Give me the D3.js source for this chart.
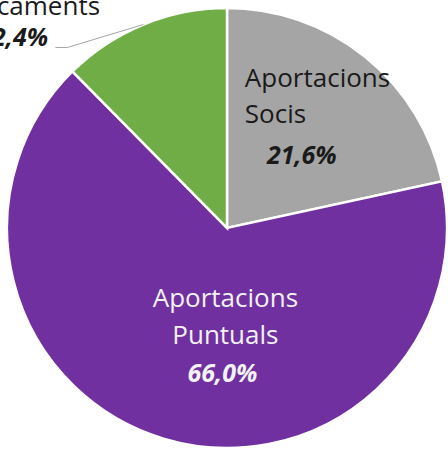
<!DOCTYPE html>
<meta charset="utf-8">
<head>
<script src="https://d3js.org/d3.v7.min.js"></script>
<style>
  body { margin: 0; background: #ffffff; }
  svg text { font-family: "Open Sans", Lato, sans-serif; }
</style>
</head>
<body>
<div class="viz"></div>
<script>
  // slice data, clockwise from 12 o'clock
  var categories = ["Aportacions Socis", "Aportacions Puntuals", "Medicaments"];
  var labelLines = [["Aportacions", "Socis"], ["Aportacions", "Puntuals"], ["Medicaments"]];
  var values = [21.6, 66.0, 12.4];
  var percentLabels = ["21,6%", "66,0%", "12,4%"];
  var sliceColors = ["#a5a5a5", "#7030a0", "#70ad47"];

  var width = 448, height = 449;
  var cx = 227, cy = 228, radius = 220;

  var svg = d3.select("div.viz").append("svg")
      .attr("width", width)
      .attr("height", height);

  var g = svg.append("g").attr("transform", "translate(" + cx + "," + cy + ")");

  var pie = d3.pie().sort(null).value(function(d) { return d; });
  var arcs = pie(values);

  var arc = d3.arc().innerRadius(0).outerRadius(radius);
  var labelArc = d3.arc().innerRadius(radius * 0.6).outerRadius(radius * 0.6);
  var outerArc = d3.arc().innerRadius(radius).outerRadius(radius);

  g.selectAll("path.slice")
    .data(arcs)
    .enter().append("path")
    .attr("class", "slice")
    .attr("d", arc)
    .style("fill", function(d, i) { return sliceColors[i]; })
    .style("stroke", "#ffffff")
    .style("stroke-width", 2.5);

  // inside labels (Socis, Puntuals) - tweak from centroid like excel does
  var tweak = [
    { dx: -65, dy: -38, anchor: "start", pctDx: 57, pctDy: 77, lineGap: 36, color: "#1a1a1a" },
    { dx: 36, dy: -47.5, anchor: "middle", pctDx: -3, pctDy: 75, lineGap: 37, color: "#f2f2f2" }
  ];
  var fontSize = 26, pctSize = 25;

  arcs.slice(0, 2).forEach(function(d, i) {
    var c = labelArc.centroid(d);
    var t = tweak[i];
    var x = c[0] + t.dx, y = c[1] + t.dy;
    var text = g.append("text")
      .attr("text-anchor", t.anchor)
      .style("font-size", fontSize + "px")
      .style("fill", t.color);
    labelLines[i].forEach(function(l, j) {
      text.append("tspan").attr("x", x).attr("y", y + j * t.lineGap).text(l);
    });
    g.append("text")
      .attr("x", x + t.pctDx)
      .attr("y", y + t.pctDy)
      .attr("text-anchor", "middle")
      .style("font-size", pctSize + "px")
      .style("font-weight", "bold")
      .style("font-style", "italic")
      .style("fill", t.color)
      .text(percentLabels[i]);
  });

  // outside label with leader line for the small green slice
  var gd = arcs[2];
  var p0 = outerArc.centroid(gd);
  var p1 = [p0[0] - 76, p0[1] + 23];
  var p2 = [p1[0] - 12, p1[1]];
  g.append("polyline")
    .attr("points", [p0, p1, p2].map(function(p) { return p.join(","); }).join(" "))
    .style("fill", "none")
    .style("stroke", "#a5a5a5")
    .style("stroke-width", 1);

  g.append("text")
    .attr("x", p2[0] + 44.6)
    .attr("y", p2[1] - 32.5)
    .attr("text-anchor", "end")
    .style("font-size", fontSize + "px")
    .style("fill", "#1a1a1a")
    .text(labelLines[2][0]);

  g.append("text")
    .attr("x", p2[0] - 7.4)
    .attr("y", p2[1] - 1.5)
    .attr("text-anchor", "end")
    .style("font-size", pctSize + "px")
    .style("font-weight", "bold")
    .style("font-style", "italic")
    .style("fill", "#1a1a1a")
    .text(percentLabels[2]);
</script>
</body>
